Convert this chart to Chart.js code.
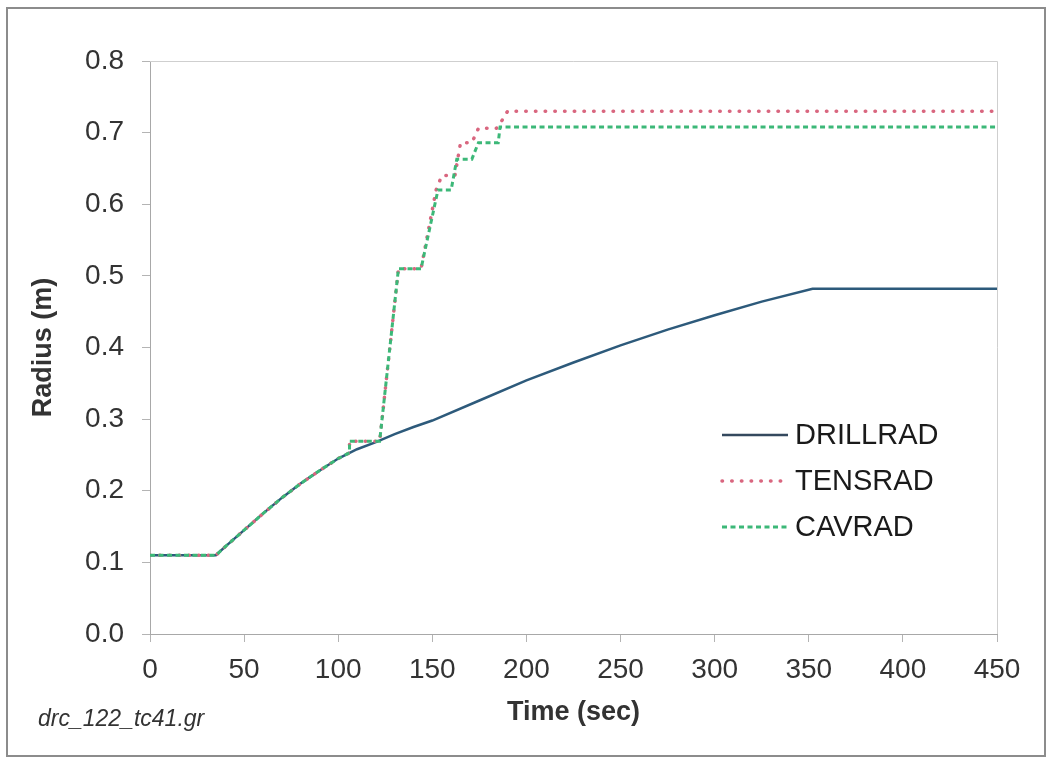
<!DOCTYPE html>
<html>
<head>
<meta charset="utf-8">
<title>Radius vs Time</title>
<script src="https://cdn.jsdelivr.net/npm/chart.js@4.4.0/dist/chart.umd.min.js"></script>
<style>
  html, body { margin: 0; padding: 0; background: #fff; }
  #wrap { width: 1050px; height: 759px; }
</style>
</head>
<body>
<div id="wrap"><canvas id="radiusChart" width="1050" height="759"></canvas></div>
<script>
// values: time (sec) vs radius (m)
const drillTime = [0, 35, 40, 50, 60, 70, 80, 90, 100, 110, 120, 130, 140, 150, 175, 200, 225, 250, 275, 300, 325, 352, 450];
const drillRad = [0.11, 0.11, 0.122, 0.145, 0.168, 0.19, 0.21, 0.228, 0.245, 0.258, 0.268, 0.279, 0.289, 0.298, 0.326, 0.354, 0.379, 0.403, 0.425, 0.445, 0.464, 0.482, 0.482];

const tensTime = [0, 35, 40, 50, 60, 70, 80, 90, 100, 106, 106, 122, 132, 144, 152, 155, 162, 165, 171, 174.5, 184, 187, 190, 450];
const tensRad = [0.11, 0.11, 0.122, 0.145, 0.168, 0.19, 0.21, 0.228, 0.245, 0.253, 0.269, 0.269, 0.51, 0.51, 0.62, 0.64, 0.64, 0.686, 0.686, 0.706, 0.706, 0.717, 0.73, 0.73];

const cavTime = [0, 35, 40, 50, 60, 70, 80, 90, 100, 106, 106, 122, 132, 144, 153, 160, 163, 171, 174.5, 185, 186, 450];
const cavRad = [0.11, 0.11, 0.122, 0.145, 0.168, 0.19, 0.21, 0.228, 0.245, 0.253, 0.269, 0.269, 0.51, 0.51, 0.62, 0.62, 0.663, 0.663, 0.686, 0.686, 0.708, 0.708];

const seriesNames = ["DRILLRAD", "TENSRAD", "CAVRAD"];
const timeTicks = [0, 50, 100, 150, 200, 250, 300, 350, 400, 450];
const radiusTicks = [0, 0.1, 0.2, 0.3, 0.4, 0.5, 0.6, 0.7, 0.8];
const fileLabel = "drc_122_tc41.gr";

const FONT = "'Liberation Sans', Arial, Helvetica, sans-serif";
const TXT = "#333333";

const toPoints = (xs, ys) => xs.map((x, i) => ({ x, y: ys[i] }));

// frame, plot border, in-plot legend and file name
const decorPlugin = {
  id: "decor",
  beforeDraw(chart) {
    const { ctx } = chart;
    ctx.save();
    ctx.fillStyle = "#fff";
    ctx.fillRect(0, 0, chart.width, chart.height);
    ctx.strokeStyle = "#8c8c8c";
    ctx.lineWidth = 2;
    ctx.strokeRect(7, 8, 1038, 748);
    ctx.restore();
  },
  beforeDatasetsDraw(chart) {
    const { ctx, chartArea: a } = chart;
    ctx.save();
    ctx.strokeStyle = "#cfcfcf";
    ctx.lineWidth = 1;
    ctx.beginPath();
    ctx.moveTo(a.left, a.top + 0.5);
    ctx.lineTo(a.right + 0.5, a.top + 0.5);
    ctx.lineTo(a.right + 0.5, a.bottom);
    ctx.stroke();
    ctx.restore();
  },
  afterDraw(chart) {
    const { ctx } = chart;
    ctx.save();
    // legend
    chart.data.datasets.forEach((ds, i) => {
      const y = 435 + i * 46;
      ctx.strokeStyle = ds.legendColor || ds.borderColor;
      ctx.lineWidth = ds.borderWidth;
      ctx.lineCap = ds.borderCapStyle || "butt";
      ctx.setLineDash(ds.borderDash || []);
      ctx.beginPath();
      ctx.moveTo(722, y);
      ctx.lineTo(788, y);
      ctx.stroke();
      ctx.setLineDash([]);
      ctx.fillStyle = "#1a1a1a";
      ctx.font = "29px " + FONT;
      ctx.textBaseline = "middle";
      ctx.textAlign = "left";
      ctx.fillText(ds.label, 795, y + 1);
    });
    // file name
    ctx.fillStyle = TXT;
    ctx.font = "italic 23px " + FONT;
    ctx.textBaseline = "alphabetic";
    ctx.fillText(fileLabel, 38, 726);
    ctx.restore();
  }
};

new Chart(document.getElementById("radiusChart"), {
  type: "line",
  data: {
    datasets: [
      {
        label: seriesNames[0],
        data: toPoints(drillTime, drillRad),
        borderColor: "#2d5a7b",
        legendColor: "#34495e",
        borderWidth: 2.5,
        order: 3
      },
      {
        label: seriesNames[1],
        data: toPoints(tensTime, tensRad),
        borderColor: "#d9667f",
        borderWidth: 3.5,
        borderDash: [0.5, 9.2],
        borderCapStyle: "round",
        order: 2
      },
      {
        label: seriesNames[2],
        data: toPoints(cavTime, cavRad),
        borderColor: "#3cb878",
        borderWidth: 3,
        borderDash: [5, 3.5],
        order: 1
      }
    ]
  },
  options: {
    responsive: false,
    animation: false,
    devicePixelRatio: 1,
    elements: {
      point: { radius: 0, hoverRadius: 0 },
      line: { tension: 0, fill: false }
    },
    layout: { padding: { left: 10, right: 53, top: 61, bottom: 26 } },
    plugins: {
      legend: { display: false },
      tooltip: { enabled: false }
    },
    scales: {
      x: {
        type: "linear",
        min: 0,
        max: 450,
        afterBuildTicks: (s) => { s.ticks = timeTicks.map((v) => ({ value: v })); },
        afterFit: (s) => { s.height = 99; },
        grid: { drawOnChartArea: false, drawTicks: true, tickLength: 8, color: "#b4b4b4" },
        border: { display: true, color: "#a8a8a8", width: 1 },
        ticks: {
          padding: 11,
          color: TXT,
          font: { family: FONT, size: 28 },
          maxRotation: 0,
          callback: (v) => String(v)
        },
        title: {
          display: true,
          text: "Time (sec)",
          color: TXT,
          font: { family: FONT, size: 27, weight: "bold" },
          padding: { top: 0, bottom: 4 }
        }
      },
      y: {
        type: "linear",
        min: 0,
        max: 0.8,
        afterBuildTicks: (s) => { s.ticks = radiusTicks.map((v) => ({ value: v })); },
        afterFit: (s) => { s.width = 140; },
        grid: { drawOnChartArea: false, drawTicks: true, tickLength: 8, color: "#b4b4b4" },
        border: { display: true, color: "#a8a8a8", width: 1 },
        ticks: {
          padding: 18,
          color: TXT,
          font: { family: FONT, size: 28 },
          callback: (v) => Number(v).toFixed(1)
        },
        title: {
          display: true,
          text: "Radius (m)",
          color: TXT,
          font: { family: FONT, size: 27, weight: "bold" },
          padding: { top: 17, bottom: 0 }
        }
      }
    }
  },
  plugins: [decorPlugin]
});
</script>
</body>
</html>
